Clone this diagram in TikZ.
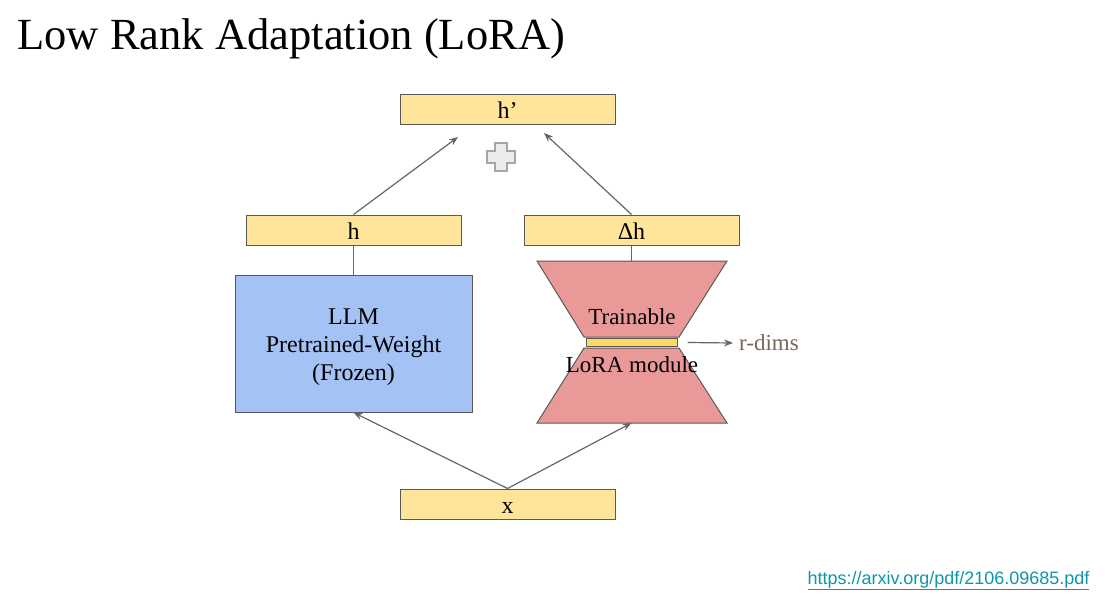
\documentclass[tikz,border=0pt]{standalone}
\usepackage{fontspec}
\setmainfont{Liberation Serif}
\newfontfamily\urlfont{Liberation Sans}
\usetikzlibrary{arrows.meta}
\definecolor{boxyellow}{HTML}{FFE599}
\definecolor{baryellow}{HTML}{FFD966}
\definecolor{frozenblue}{HTML}{A4C2F4}
\definecolor{lorapink}{HTML}{EA9999}
\definecolor{edgegray}{HTML}{595959}
\definecolor{arrowgray}{HTML}{666666}
\definecolor{dimsbrown}{HTML}{786858}
\definecolor{linkteal}{HTML}{0E97A8}
\begin{document}
\begin{tikzpicture}[x=1pt,y=-1pt,
  vecbox/.style={draw=edgegray,fill=boxyellow,line width=1pt,minimum width=215pt,minimum height=30pt,inner sep=0pt,text height=20pt,text depth=2pt,font=\fontsize{24}{26}\selectfont},
  flow/.style={draw=arrowgray,line width=1.2pt,-{Stealth[length=9pt,width=7pt]}},
  link/.style={draw=arrowgray,line width=1.2pt}]
\useasboundingbox (0,0) rectangle (1107,594);
\fill[white] (0,0) rectangle (1107,594);
\node[anchor=base west,font=\fontsize{44.5}{48}\selectfont] (title) at (14,50) {Low Rank Adaptation (LoRA)};
% vectors
\node[vecbox] (hout) at (507.5,109) {h’};
\node[vecbox] (h) at (353.5,230) {h};
\node[vecbox] (dh) at (631.5,230) {Δh};
\node[vecbox] (x) at (507.5,504) {x};
% frozen weights
\node[draw=edgegray,fill=frozenblue,line width=1pt,minimum width=237pt,minimum height=137pt] (llm) at (353.5,343.5) {};
\node[align=center,font=\fontsize{24}{28}\selectfont] (llmtext) at (353.5,347.5) {LLM\\Pretrained-Weight\\(Frozen)};
% lora hourglass
\draw[draw=edgegray,fill=lorapink,line width=1pt] (537,261) -- (727,261) -- (679,337) -- (584,337) -- cycle;
\draw[draw=edgegray,fill=lorapink,line width=1pt] (584,348) -- (679,348) -- (727,423) -- (537,423) -- cycle;
\coordinate (loratop) at (631.5,261);
\coordinate (lorabot) at (631.5,423);
\node[draw=edgegray,fill=baryellow,line width=1pt,minimum width=91pt,minimum height=8pt,inner sep=0pt] (bar) at (631.5,342.5) {};
\node[font=\fontsize{23}{24}\selectfont] (train) at (632,317) {Trainable};
\node[font=\fontsize{23}{24}\selectfont] (mod) at (632,365) {LoRA module};
\node[anchor=west,text=dimsbrown,font=\fontsize{23}{24}\selectfont,inner sep=0pt] (rdims) at (739,343) {r-dims};
\draw[flow] ([xshift=10pt]bar.east) -- ([xshift=-6pt]rdims.west);
% plus
\draw[draw=gray!70,fill=gray!15,line width=1.2pt] (495,143) -- (507,143) -- (507,151) -- (515,151) -- (515,163) -- (507,163) -- (507,171) -- (495,171) -- (495,163) -- (487,163) -- (487,151) -- (495,151) -- cycle;
% connectors
\draw[link] (h.south) -- (llm.north);
\draw[link] (dh.south) -- (loratop);
\draw[flow] (h.north) -- (458,137);
\draw[flow] (dh.north) -- (544,133);
\draw[flow] (x.north) -- (llm.south);
\draw[flow] (x.north) -- (lorabot);
\node[anchor=base east,text=linkteal,font=\urlfont\fontsize{18}{20}\selectfont] (url) at (1093,584) {\underline{https://arxiv.org/pdf/2106.09685.pdf}};
\end{tikzpicture}
\end{document}
